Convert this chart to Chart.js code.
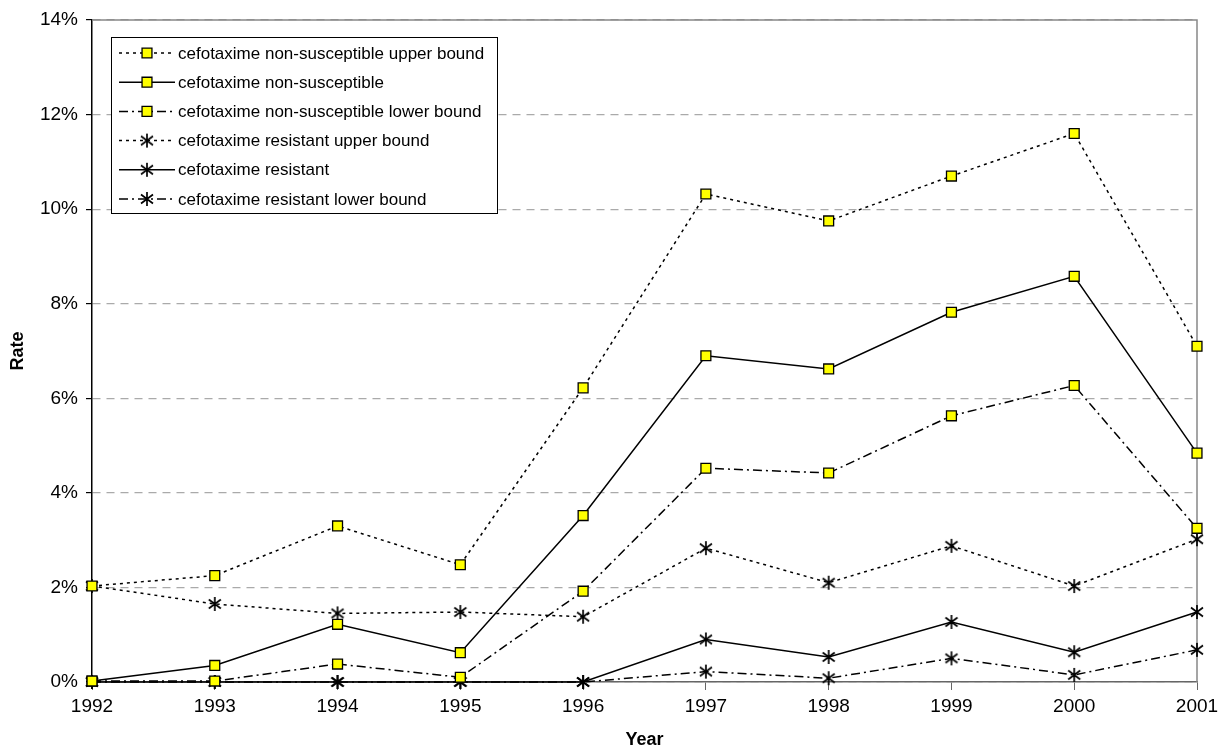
<!DOCTYPE html>
<html lang="en">
<head>
<meta charset="UTF-8" />
<title>Cefotaxime rates</title>
<script src="https://cdn.jsdelivr.net/npm/chart.js"></script>
<style>
  body { margin: 0; background: #fff; }
  #wrap { width: 1218px; height: 751px; }
</style>
</head>
<body>
<div id="wrap"><canvas id="grafico" width="1218" height="751"></canvas></div>
<script>
// dados (em %)
const anos = ['1992', '1993', '1994', '1995', '1996', '1997', '1998', '1999', '2000', '2001'];
const nsSuperior = [2.03, 2.25, 3.30, 2.48, 6.22, 10.32, 9.75, 10.70, 11.60, 7.10];
const nsCentral  = [0.02, 0.35, 1.22, 0.62, 3.52, 6.90, 6.62, 7.82, 8.58, 4.84];
const nsInferior = [0.02, 0.02, 0.38, 0.10, 1.92, 4.52, 4.42, 5.63, 6.27, 3.25];
const resSuperior = [2.03, 1.65, 1.45, 1.48, 1.38, 2.83, 2.10, 2.88, 2.03, 3.02];
const resCentral  = [0.00, 0.00, 0.00, 0.00, 0.00, 0.90, 0.53, 1.27, 0.63, 1.48];
const resInferior = [0.00, 0.00, 0.00, 0.00, 0.00, 0.22, 0.08, 0.50, 0.15, 0.68];
const ticksY = [0, 2, 4, 6, 8, 10, 12, 14];

const FONTE = "'Liberation Sans', Arial, sans-serif";
const pontilhado = [3, 4];
const tracoPonto = [9, 4, 2, 4];

// asterisco de 6 pontas
function criaEstrela() {
  const c = document.createElement('canvas');
  c.width = 16; c.height = 16;
  const g = c.getContext('2d');
  g.strokeStyle = '#000';
  g.lineWidth = 1.7;
  g.beginPath();
  g.moveTo(8, 1); g.lineTo(8, 15);
  g.moveTo(2, 3.5); g.lineTo(14, 12.5);
  g.moveTo(14, 3.5); g.lineTo(2, 12.5);
  g.stroke();
  return c;
}
const estrela = criaEstrela();

function serie(label, dados, dash, quadrado) {
  return {
    label: label,
    data: dados,
    borderColor: '#000',
    borderWidth: 1.5,
    borderDash: dash,
    fill: false,
    tension: 0,
    clip: false,
    pointStyle: quadrado ? 'rect' : estrela,
    pointRadius: 7,
    pointBackgroundColor: '#ffff00',
    pointBorderColor: '#000',
    pointBorderWidth: 1.3
  };
}

const legendaInterna = {
  id: 'legendaInterna',
  beforeDatasetsDraw(chart) {
    const { ctx, chartArea: a } = chart;
    ctx.save();
    ctx.strokeStyle = '#888';
    ctx.lineWidth = 1.5;
    ctx.beginPath();
    ctx.moveTo(a.left, a.top);
    ctx.lineTo(a.right, a.top);
    ctx.lineTo(a.right, a.bottom);
    ctx.stroke();
    ctx.restore();
  },
  afterDatasetsDraw(chart) {
    const ctx = chart.ctx;
    const x0 = 111, y0 = 37, w = 386, h = 176;
    ctx.save();
    ctx.fillStyle = '#fff';
    ctx.fillRect(x0, y0, w, h);
    ctx.strokeStyle = '#000';
    ctx.lineWidth = 1;
    ctx.strokeRect(x0 + 0.5, y0 + 0.5, w, h);
    ctx.font = '17px ' + FONTE;
    ctx.textBaseline = 'middle';
    ctx.fillStyle = '#000';
    chart.data.datasets.forEach((ds, i) => {
      const y = 53 + i * 29.2;
      ctx.strokeStyle = '#000';
      ctx.lineWidth = 1.5;
      ctx.setLineDash(ds.borderDash);
      ctx.beginPath();
      ctx.moveTo(119, y);
      ctx.lineTo(175, y);
      ctx.stroke();
      ctx.setLineDash([]);
      ctx.fillStyle = ds.pointBackgroundColor;
      ctx.strokeStyle = ds.pointBorderColor;
      ctx.lineWidth = ds.pointBorderWidth;
      Chart.helpers.drawPoint(ctx, { pointStyle: ds.pointStyle, radius: ds.pointRadius, borderWidth: ds.pointBorderWidth, rotation: 0 }, 147, y);
      ctx.fillStyle = '#000';
      ctx.fillText(ds.label, 178, y + 1);
    });
    ctx.restore();
  }
};

new Chart(document.getElementById('grafico').getContext('2d'), {
  type: 'line',
  data: {
    labels: anos,
    datasets: [
      serie('cefotaxime non-susceptible upper bound', nsSuperior, pontilhado, true),
      serie('cefotaxime non-susceptible', nsCentral, [], true),
      serie('cefotaxime non-susceptible lower bound', nsInferior, tracoPonto, true),
      serie('cefotaxime resistant upper bound', resSuperior, pontilhado, false),
      serie('cefotaxime resistant', resCentral, [], false),
      serie('cefotaxime resistant lower bound', resInferior, tracoPonto, false)
    ]
  },
  options: {
    responsive: false,
    animation: false,
    layout: { padding: { top: 20, right: 21, left: 0, bottom: 0 } },
    plugins: { legend: { display: false }, tooltip: { enabled: false } },
    scales: {
      x: {
        type: 'category',
        offset: false,
        grid: { display: true, drawOnChartArea: false, drawTicks: true, tickLength: 8, tickColor: '#666' },
        border: { display: true, color: '#666', width: 1.5 },
        ticks: { color: '#000', font: { family: FONTE, size: 19 }, padding: 5, maxRotation: 0, autoSkip: false },
        title: { display: true, text: 'Year', color: '#000', font: { family: FONTE, size: 18, weight: 'bold' }, padding: { top: 0, bottom: 0 } },
        afterFit: s => { s.height = 69; s.paddingLeft = 0; s.paddingRight = 0; }
      },
      y: {
        min: 0,
        max: 14,
        afterBuildTicks: s => { s.ticks = ticksY.map(v => ({ value: v })); },
        grid: { color: '#aaa', lineWidth: 1.2, tickColor: '#000', tickLength: 6 },
        border: { display: true, color: '#000', width: 1.5, dash: [8, 6] },
        ticks: { color: '#000', font: { family: FONTE, size: 19 }, padding: 8, callback: v => v + '%' },
        title: { display: true, text: 'Rate', color: '#000', font: { family: FONTE, size: 18, weight: 'bold' }, padding: { top: 7, bottom: 0 } },
        afterFit: s => { s.width = 92; s.paddingTop = 0; s.paddingBottom = 0; }
      }
    }
  },
  plugins: [legendaInterna]
});
</script>
</body>
</html>
